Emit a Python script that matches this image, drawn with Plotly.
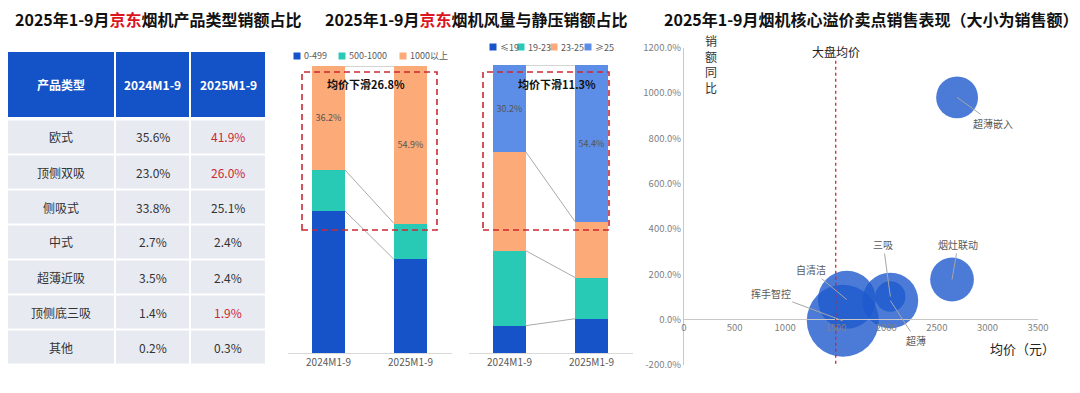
import plotly.graph_objects as go

# ---------------- data ----------------
table_header = ["产品类型", "2024M1-9", "2025M1-9"]
product_types = ["欧式", "顶侧双吸", "侧吸式", "中式", "超薄近吸", "顶侧底三吸", "其他"]
share_2024 = ["35.6%", "23.0%", "33.8%", "2.7%", "3.5%", "1.4%", "0.2%"]
share_2025 = ["41.9%", "26.0%", "25.1%", "2.4%", "2.4%", "1.9%", "0.3%"]
highlight_2025 = [True, True, False, False, False, True, False]

periods = ["2024M1-9", "2025M1-9"]
price_bands = ["0-499", "500-1000", "1000以上"]
price_share = {
    "0-499": [49.5, 32.6],
    "500-1000": [14.3, 12.5],
    "1000以上": [36.2, 54.9],
}
price_note = "均价下滑26.8%"

air_bands = ["≤19", "19-23", "23-25", "≥25"]
air_share = {
    "≤19": [9.5, 11.9],
    "19-23": [26.0, 14.3],
    "23-25": [34.3, 19.4],
    "≥25": [30.2, 54.4],
}
air_note = "均价下滑11.3%"

features = ["超薄嵌入", "烟灶联动", "三吸", "超薄", "自清洁", "挥手智控"]
avg_price = [2700, 2650, 2040, 2040, 1610, 1570]
sales_yoy = [980, 177, 102, 84, 88, -5]
sales_amt = [4.4, 4.8, 2.3, 7.8, 8.4, 13.0]
market_avg_price = 1500
yoy_ticks = [-200, 0, 200, 400, 600, 800, 1000, 1200]
price_ticks = [0, 500, 1000, 1500, 2000, 2500, 3000, 3500]

# ---------------- style ----------------
FONT = "Noto Sans CJK SC"
W, H = 1080, 393
C_DARK = "rgb(22,82,200)"
C_TEAL = "rgb(40,202,182)"
C_ORANGE = "rgb(252,170,120)"
C_LIGHT = "rgb(92,142,232)"
RED = "rgb(204,40,50)"
GRAY_TXT = "#595959"


def px_x(p):
    return p / W


def px_y(p):
    return 1 - p / H


fig = go.Figure()
shapes = []
annotations = []


def note(x, y, text, size, color, xanchor="center", yanchor="middle", xref="paper", yref="paper"):
    annotations.append(dict(xref=xref, yref=yref, x=x, y=y, xanchor=xanchor, yanchor=yanchor,
                            showarrow=False, text=text,
                            font=dict(family=FONT, size=size, color=color)))


# ---------------- titles ----------------
titles = [
    (13, "2025年1-9月<span style='color:rgb(220,20,30)'>京东</span>烟机产品类型销额占比"),
    (323, "2025年1-9月<span style='color:rgb(220,20,30)'>京东</span>烟机风量与静压销额占比"),
    (662, "2025年1-9月烟机核心溢价卖点销售表现（大小为销售额）"),
]
for x0, t in titles:
    note(px_x(x0), px_y(19), "<b>" + t + "</b>", 16, "#111111", xanchor="left")

# ---------------- table (shapes + text) ----------------
col_edges = [(8, 114), (116, 189), (191, 265)]
hdr_top, hdr_bot = 52, 117
row_top0, row_pitch, row_h = 120.5, 35, 33
for (c0, c1), h in zip(col_edges, table_header):
    shapes.append(dict(type="rect", xref="paper", yref="paper",
                       x0=px_x(c0), x1=px_x(c1), y0=px_y(hdr_bot), y1=px_y(hdr_top),
                       fillcolor="rgb(20,82,200)", line=dict(width=0), layer="below"))
    note(px_x((c0 + c1) / 2), px_y((hdr_top + hdr_bot) / 2), "<b>" + h + "</b>", 12, "white")
for i, (pt, a, b, hl) in enumerate(zip(product_types, share_2024, share_2025, highlight_2025)):
    top = row_top0 + i * row_pitch
    bot = top + row_h
    vals = [pt, a, b]
    colors = ["#333333", "#333333", RED if hl else "#333333"]
    for (c0, c1), v, col in zip(col_edges, vals, colors):
        shapes.append(dict(type="rect", xref="paper", yref="paper",
                           x0=px_x(c0), x1=px_x(c1), y0=px_y(bot), y1=px_y(top),
                           fillcolor="rgb(232,234,242)", line=dict(width=0), layer="below"))
        note(px_x((c0 + c1) / 2), px_y((top + bot) / 2), v, 12, col)

# ---------------- stacked bar helper ----------------
xpos = [0, 1]


def stacked(bands, shares, colors, xa, ya, legend_y, legend_x, note_text, note_x, rect_px):
    n = len(bands)
    cum = [[0.0, 0.0]]
    for k, (band, col) in enumerate(zip(bands, colors)):
        vals = shares[band]
        is_top = k == n - 1
        fig.add_trace(go.Bar(
            x=xpos, y=vals, xaxis=xa, yaxis=ya, name=band, marker=dict(color=col, line=dict(width=0)),
            showlegend=False,
            text=[f"{v:.1f}%" for v in vals] if is_top else None,
            textposition="inside" if is_top else "none", insidetextanchor="middle",
            textangle=0, textfont=dict(family=FONT, size=9, color="#555555"),
            hoverinfo="skip"))
        cum.append([cum[-1][0] + vals[0], cum[-1][1] + vals[1]])
    # series lines
    for c in cum[1:]:
        fig.add_trace(go.Scatter(x=[0.2, 0.8], y=c, xaxis=xa, yaxis=ya, mode="lines",
                                 line=dict(color="#AAAAAA", width=1), showlegend=False,
                                 hoverinfo="skip"))
    # legend
    for (lx, band, col) in zip(legend_x, bands, colors):
        shapes.append(dict(type="rect", xref="paper", yref="paper",
                           x0=px_x(lx - 3.5), x1=px_x(lx + 3.5),
                           y0=px_y(legend_y + 3.5), y1=px_y(legend_y - 3.5),
                           fillcolor=col, line=dict(width=0)))
        note(px_x(lx + 4.5), px_y(legend_y), band, 9, GRAY_TXT, xanchor="left")
    # dashed rect and note
    shapes.append(dict(type="rect", xref="paper", yref="paper",
                       x0=px_x(rect_px[0]), x1=px_x(rect_px[1]),
                       y0=px_y(rect_px[3]), y1=px_y(rect_px[2]),
                       line=dict(color=RED, width=1.6, dash="6px,4px"), fillcolor="rgba(0,0,0,0)",
                       layer="above"))
    note(px_x(note_x), px_y(84), "<b>" + note_text + "</b>", 11, "#111111")


stacked(price_bands, price_share, [C_DARK, C_TEAL, C_ORANGE], "x", "y",
        56, [297, 342, 403], price_note, 366, (302, 437, 72, 230))
stacked(air_bands, air_share, [C_DARK, C_TEAL, C_ORANGE, C_LIGHT], "x2", "y2",
        47, [493, 521, 554, 588], air_note, 557, (483, 609, 72, 230))

bar_x_axis = dict(range=[-0.5, 1.5], tickvals=xpos, ticktext=periods, showgrid=False,
                  zeroline=False, showline=True, linecolor="#D9D9D9", linewidth=1, ticks="",
                  tickfont=dict(family=FONT, size=10, color=GRAY_TXT), fixedrange=True,
                  automargin=False)
bar_y_axis = dict(range=[0, 100], visible=False, fixedrange=True, automargin=False)

# ---------------- bubble chart ----------------
max_d = 72
sizeref = 2 * max(sales_amt) / max_d ** 2
fig.add_trace(go.Scatter(
    x=avg_price, y=sales_yoy, xaxis="x3", yaxis="y3", mode="markers",
    marker=dict(size=sales_amt, sizemode="area", sizeref=sizeref,
                color="rgb(30,90,205)", opacity=0.8, line=dict(width=0)),
    text=features, showlegend=False, hoverinfo="text"))

label_offsets = {
    "超薄嵌入": (36, 26),
    "烟灶联动": (6, -35),
    "三吸": (-7, -52),
    "超薄": (26, 40),
    "自清洁": (-36, -30),
    "挥手智控": (-72, -27),
}
for f, xv, yv in zip(features, avg_price, sales_yoy):
    ax, ay = label_offsets[f]
    annotations.append(dict(xref="x3", yref="y3", x=xv, y=yv, ax=ax, ay=ay,
                            showarrow=True, arrowhead=0, arrowwidth=1, arrowcolor="#A6A6A6",
                            text=f, font=dict(family=FONT, size=10, color=GRAY_TXT)))

shapes.append(dict(type="line", xref="x3", yref="y3", x0=market_avg_price, x1=market_avg_price,
                   y0=-195, y1=1160, line=dict(color=RED, width=1.3, dash="3px,3px")))
note(market_avg_price, px_y(51), "大盘均价", 12, "#222222", xref="x3")
note(px_x(711), px_y(64), "销<br>额<br>同<br>比", 12, "#333333")
note(px_x(1022), px_y(348), "均价（元）", 13, "#222222")

fig.update_layout(
    width=W, height=H, margin=dict(l=0, r=0, t=0, b=0, pad=0, autoexpand=False),
    paper_bgcolor="white", plot_bgcolor="white",
    barmode="stack", bargap=0.6, showlegend=False,
    font=dict(family=FONT),
    xaxis=dict(domain=[px_x(287.5), px_x(451.5)], anchor="y", **bar_x_axis),
    yaxis=dict(domain=[px_y(353), px_y(66)], anchor="x", **bar_y_axis),
    xaxis2=dict(domain=[px_x(468.5), px_x(632.5)], anchor="y2", **bar_x_axis),
    yaxis2=dict(domain=[px_y(353), px_y(65)], anchor="x2", **bar_y_axis),
    xaxis3=dict(domain=[px_x(684), px_x(1038)], anchor="free", position=px_y(319),
                range=[0, 3500], tickvals=price_ticks,
                showgrid=False, zeroline=False, showline=True, linecolor="#C8C8C8",
                ticks="", tickfont=dict(family=FONT, size=9.5, color="#808080"),
                fixedrange=True, automargin=False),
    yaxis3=dict(domain=[px_y(365), px_y(47.5)], anchor="x3",
                range=[-200, 1200], tickvals=yoy_ticks,
                ticktext=[f"{v:.1f}%" for v in yoy_ticks], showgrid=False,
                zeroline=False, showline=True, linecolor="#C8C8C8", ticks="",
                tickfont=dict(family=FONT, size=9.5, color="#808080"),
                fixedrange=True, automargin=False),
    shapes=shapes, annotations=annotations,
)

fig.write_html("out.html", config={"displayModeBar": False},
               post_script="document.body.style.margin='0';document.body.style.overflow='hidden';")
